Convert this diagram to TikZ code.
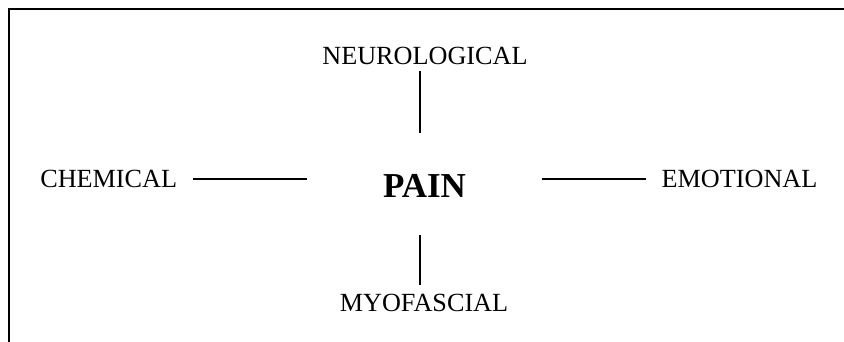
\documentclass[tikz,border=0pt]{standalone}
\usepackage{fontspec}
\setmainfont{Liberation Serif}
\begin{document}
\begin{tikzpicture}[x=1pt,y=-1pt,
  lbl/.style={anchor=base,inner sep=0pt,font=\fontsize{26.2}{30}\selectfont},
  hub/.style={anchor=base,inner sep=0pt,font=\fontsize{35}{40}\selectfont\bfseries},
  link/.style={line width=1.8pt},
  frame/.style={line width=2.5pt}]
\useasboundingbox (0,0) rectangle (844,342);
\draw[frame] (9,342) -- (9,9) -- (844,9);
\node[hub] (pain) at (424.5,197.7) {PAIN};
\node[lbl] (neuro) at (425,65) {NEUROLOGICAL};
\node[lbl] (chem) at (108.7,187.7) {CHEMICAL};
\node[lbl] (emo) at (739.5,187.7) {EMOTIONAL};
\node[lbl] (myo) at (424,311) {MYOFASCIAL};
\draw[link,shorten <=15.3pt,shorten >=75.7pt] (chem.east) -- (chem.east -| pain.west);
\draw[link,shorten <=75.7pt,shorten >=15pt] (chem.east -| pain.east) -- (chem.east -| emo.west);
\draw[link,shorten <=5.7pt,shorten >=41.6pt] ([xshift=-5pt]neuro.south) -- ([xshift=-5pt]neuro.south |- pain.north);
\draw[link,shorten <=37.3pt,shorten >=8.3pt] ([xshift=-4.5pt]pain.south) -- ([xshift=-4.5pt]pain.south |- myo.north);
\end{tikzpicture}
\end{document}
